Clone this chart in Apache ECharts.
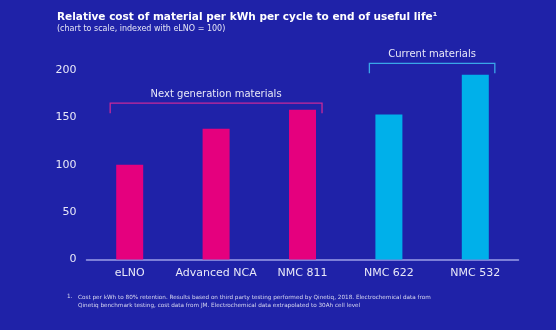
<!DOCTYPE html>
<html><head><meta charset="utf-8">
<style>html,body{margin:0;padding:0;background:#1f22a8;}#c{width:556px;height:330px;}</style>
<script src="https://cdn.jsdelivr.net/npm/echarts@6/dist/echarts.min.js"></script>
</head><body><div id="c"></div>
<script>
var categories = ['eLNO', 'Advanced NCA', 'NMC 811', 'NMC 622', 'NMC 532'];
var values = [100, 138, 158, 153, 195];
var groups = ['next', 'next', 'next', 'current', 'current'];
var yTicks = [0, 50, 100, 150, 200];
// bracket: [first category index, last category index, level value, label, group]
var brackets = [
  [0, 2, 165, 'Next generation materials', 'next'],
  [3, 4, 207, 'Current materials', 'current']
];
var title = 'Relative cost of material per kWh per cycle to end of useful life\u00B9';
var subtitle = '(chart to scale, indexed with eLNO = 100)';
var footnote1 = '1.';
var footnote2 = 'Cost per kWh to 80% retention. Results based on third party testing performed by Qinetiq, 2018. Electrochemical data from\nQinetiq benchmark testing, cost data from JM. Electrochemical data extrapolated to 30Ah cell level';

var barColors = { next: '#e5007e', current: '#00b0ea' };
var bracketColors = { next: '#c8289a', current: '#3aa6e8' };
var FONT = 'DejaVu Sans';

var chart = echarts.init(document.getElementById('c'), null, { renderer: 'canvas' });
chart.setOption({
  backgroundColor: '#1f22a8',
  animation: false,
  title: [
    { text: title, left: 57, top: 12, textStyle: { color: '#ffffff', fontFamily: FONT, fontWeight: 'bold', fontSize: 10.5 }, padding: 0 },
    { text: subtitle, left: 57, top: 25, textStyle: { color: '#e6e6f6', fontFamily: FONT, fontWeight: 'normal', fontSize: 8 }, padding: 0 },
    { text: footnote1, left: 67, top: 294, textStyle: { color: '#d8d8f0', fontFamily: FONT, fontWeight: 'normal', fontSize: 5.7 }, padding: 0 },
    { text: footnote2, left: 78, top: 294, textStyle: { color: '#d8d8f0', fontFamily: FONT, fontWeight: 'normal', fontSize: 5.7, lineHeight: 8 }, padding: 0 }
  ],
  grid: { left: 86.5, right: 37.5, top: 70, bottom: 70.5 },
  xAxis: {
    type: 'category', data: categories,
    axisLine: { lineStyle: { color: '#9c9ee8', width: 1.5 } },
    axisTick: { show: false },
    axisLabel: { color: '#e8e8f8', fontFamily: FONT, fontSize: 11, margin: 8, interval: 0 }
  },
  yAxis: {
    type: 'value', min: yTicks[0], max: yTicks[yTicks.length - 1], interval: yTicks[1] - yTicks[0],
    splitLine: { show: false }, axisLine: { show: false }, axisTick: { show: false },
    axisLabel: { color: '#e8e8f8', fontFamily: FONT, fontSize: 11, margin: 10 }
  },
  series: [
    {
      type: 'bar', barWidth: 27,
      data: values.map(function (v, i) { return { value: v, itemStyle: { color: barColors[groups[i]] } }; })
    },
    {
      type: 'custom', clip: false, z: 5,
      data: brackets,
      encode: { x: [0, 1], y: 2 },
      renderItem: function (params, api) {
        var a = api.coord([api.value(0), api.value(2)]);
        var b = api.coord([api.value(1), api.value(2)]);
        var band = api.size([1, 0])[0];
        var off = band * 0.226;
        var x1 = a[0] - off, x2 = b[0] + off, y = a[1];
        var item = brackets[params.dataIndex];
        var col = bracketColors[item[4]];
        return {
          type: 'group',
          children: [
            { type: 'polyline', shape: { points: [[x1, y + 10], [x1, y], [x2, y], [x2, y + 10]] },
              style: { stroke: col, lineWidth: 1.3, fill: null } },
            { type: 'text', x: (x1 + x2) / 2, y: y - 9,
              style: { text: item[3], fill: '#e8e8f8', font: '10px "DejaVu Sans"', textAlign: 'center', textVerticalAlign: 'middle' } }
          ]
        };
      }
    }
  ]
});
</script></body></html>
